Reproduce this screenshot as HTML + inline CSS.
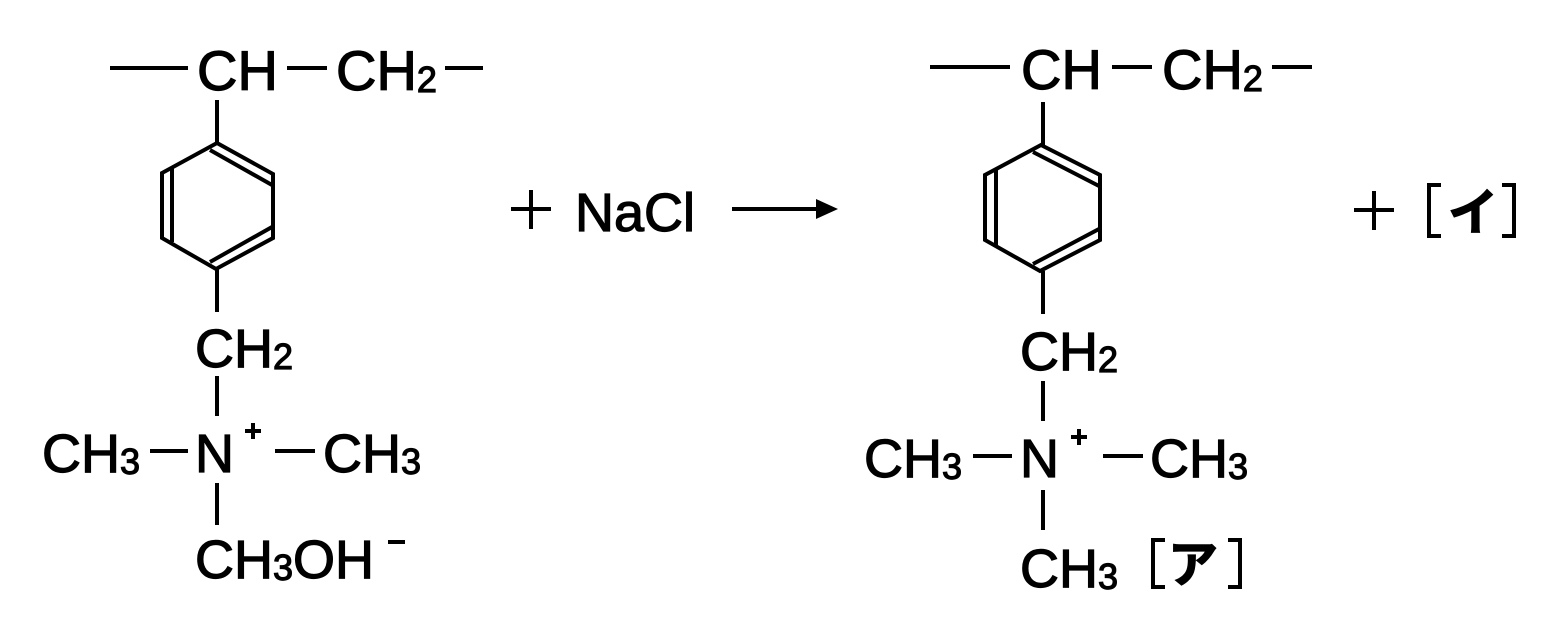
<!DOCTYPE html>
<html><head><meta charset="utf-8"><style>
html,body{margin:0;padding:0;background:#fff;}
svg{display:block}
text{font-family:"Liberation Sans","Noto Sans CJK JP",sans-serif;fill:#000;stroke:#000;stroke-width:1.2px;}
.s{font-size:36px}
</style></head><body>
<svg width="1567" height="631" viewBox="0 0 1567 631" xmlns="http://www.w3.org/2000/svg">
<g stroke="#000" stroke-width="4" fill="none" stroke-linecap="butt">
<!-- left structure -->
<line x1="110" y1="68" x2="188" y2="68"/>
<line x1="287" y1="68" x2="327" y2="68"/>
<line x1="445" y1="68" x2="483" y2="68"/>
<line x1="217" y1="100" x2="217" y2="143"/>
<polygon points="217,143 273,174 273,238 216,269 162,238 162,173"/>
<line x1="210" y1="150" x2="272" y2="185"/>
<line x1="172" y1="168" x2="172" y2="242"/>
<line x1="210" y1="262" x2="272" y2="227"/>
<line x1="217" y1="269" x2="217" y2="312"/>
<line x1="217" y1="376" x2="217" y2="416"/>
<line x1="150" y1="451" x2="188" y2="451"/>
<line x1="275" y1="451" x2="315" y2="451"/>
<line x1="217" y1="483" x2="217" y2="525"/>
<line x1="388" y1="542" x2="405" y2="542"/>
<line x1="245" y1="431" x2="261" y2="431"/>
<line x1="253" y1="423" x2="253" y2="439"/>
<!-- middle -->
<line x1="511" y1="209" x2="551" y2="209"/>
<line x1="531" y1="190" x2="531" y2="229"/>
<line x1="732" y1="209" x2="822" y2="209"/>
<!-- right structure -->
<line x1="930" y1="67" x2="1010" y2="67"/>
<line x1="1112" y1="67" x2="1152" y2="67"/>
<line x1="1272" y1="67" x2="1312" y2="67"/>
<line x1="1043" y1="102" x2="1043" y2="146"/>
<polygon points="1041,145 1100,175 1100,240 1040,271 985,240 985,175"/>
<line x1="1033" y1="152" x2="1099" y2="186"/>
<line x1="996" y1="170" x2="996" y2="245"/>
<line x1="1033" y1="264" x2="1099" y2="229"/>
<line x1="1043" y1="271" x2="1043" y2="314"/>
<line x1="1043" y1="381" x2="1043" y2="421"/>
<line x1="973" y1="456" x2="1012" y2="456"/>
<line x1="1103" y1="456" x2="1143" y2="456"/>
<line x1="1043" y1="490" x2="1043" y2="530"/>
<line x1="1071" y1="437" x2="1087" y2="437"/>
<line x1="1079" y1="429" x2="1079" y2="445"/>
<polyline points="1165,540 1153,540 1153,587 1165,587"/>
<polyline points="1228,540 1240,540 1240,587 1228,587"/>
<line x1="1354" y1="210" x2="1394" y2="210"/>
<line x1="1374" y1="191" x2="1374" y2="230"/>
<polyline points="1441,185 1429,185 1429,236 1441,236"/>
<polyline points="1502,185 1514,185 1514,236 1502,236"/>
</g>
<polygon points="838,209 816,199 816,219" fill="#000"/>
<!-- left text -->
<text x="197" y="90" font-size="56">CH</text>
<text x="336" y="90" font-size="56">CH<tspan class="s" dy="2">2</tspan></text>
<text x="195" y="367" font-size="54">CH<tspan class="s" dy="2">2</tspan></text>
<text x="42" y="472" font-size="54">CH<tspan class="s" dy="2">3</tspan></text>
<text x="195" y="472" font-size="54">N</text>
<text x="323" y="472" font-size="54">CH<tspan class="s" dy="2">3</tspan></text>
<text x="195" y="578" font-size="54">CH<tspan class="s" dy="2">3</tspan><tspan dy="-2">OH</tspan></text>
<!-- middle text -->
<text x="575" y="231" font-size="54">NaCl</text>
<!-- right text -->
<text x="1021" y="89" font-size="56">CH</text>
<text x="1162" y="89" font-size="56">CH<tspan class="s" dy="2">2</tspan></text>
<text x="1020" y="370" font-size="54">CH<tspan class="s" dy="2">2</tspan></text>
<text x="864" y="477" font-size="54">CH<tspan class="s" dy="2">3</tspan></text>
<text x="1020" y="477" font-size="54">N</text>
<text x="1150" y="477" font-size="54">CH<tspan class="s" dy="2">3</tspan></text>
<text x="1020" y="587" font-size="54">CH<tspan class="s" dy="2">3</tspan></text>
<text x="1168" y="582" font-size="50" font-weight="bold" stroke-width="0">ア</text>
<text x="1448" y="230" font-size="50" font-weight="bold" stroke-width="0">イ</text>
</svg>
</body></html>
